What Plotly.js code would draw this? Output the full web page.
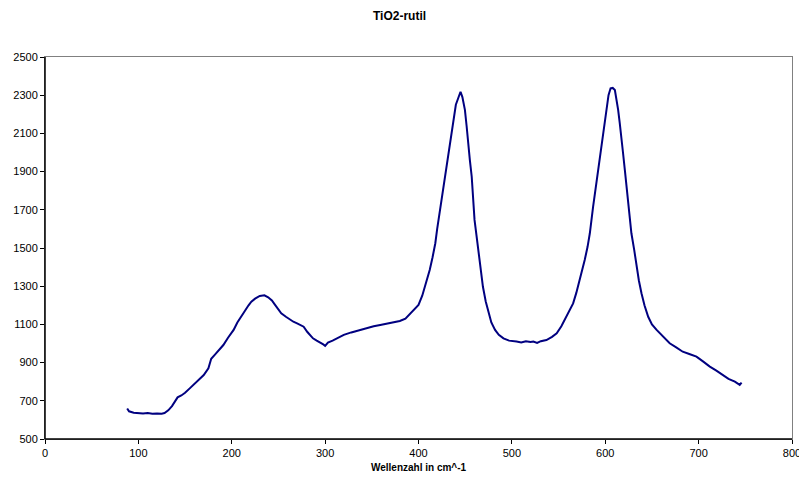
<!DOCTYPE html>
<html>
<head>
<meta charset="utf-8">
<script src="https://cdn.plot.ly/plotly-3.0.1.min.js"></script>
<style>html,body{margin:0;padding:0;background:#fff;}#chart{width:799px;height:481px;}</style>
</head>
<body>
<div id="chart"></div>
<script>
const chartTitle = "TiO2-rutil";
const xTitle = "Wellenzahl in cm^-1";

const wavenumber = [88,90,95,100,105,110,115,120,125,128,132,136,140,142,146,150,155,160,165,170,175,178,182,186,191,196,202,206,211,215,218,221,225,230,235,239,243,246,250,253,258,262,266,270,274,277,281,284,287,291,295,298,300,303,308,314,320,328,337,345,352,359,366,373,380,386,391,396,400,404,407,410,412,415,418,420,423,426,428,431,434,436,438,440,442.5,445,447,449.7,451.5,453,455,457,458.5,460,462,464,466.5,469,472,475,478,482,486,491,497,505,510,515,520,523,527,531,537,543,548,553,558.5,562,565.6,569,572.8,575.5,578,581,583.5,587,590.8,594,597.8,601.4,603.5,605.7,608,610.3,612,613.8,615.5,617.4,619,621,623,624.5,626,628,631,633.5,636,638.8,642,646,650,655,662,669,676,683,690,697.7,705,712,719,726,732,738.8,744,746];

const intensity = [660,645,638,636,634,636,632,634,632,636,650,672,700,718,728,742,765,790,815,835,870,920,942,965,992,1030,1071,1110,1150,1178,1200,1219,1235,1249,1252,1242,1225,1205,1175,1158,1140,1125,1114,1105,1095,1088,1060,1045,1027,1015,1005,995,988,1005,1015,1030,1045,1058,1071,1082,1090,1097,1105,1112,1118,1130,1155,1180,1202,1250,1297,1345,1385,1450,1525,1600,1699,1790,1873,1960,2048,2130,2205,2250,2284,2318,2290,2223,2140,2048,1960,1873,1760,1647,1570,1490,1390,1297,1220,1158,1110,1071,1045,1027,1015,1010,1005,1012,1008,1010,1003,1012,1018,1035,1053,1090,1140,1175,1210,1265,1332,1385,1437,1505,1577,1716,1856,1978,2101,2240,2300,2336,2338,2327,2280,2223,2155,2083,2000,1908,1820,1734,1655,1577,1490,1402,1330,1263,1200,1140,1100,1071,1035,1001,980,957,945,931,905,879,858,835,815,800,783,795];

const xRange = [0, 800];
const yRange = [500, 2500];

const trace = {
  x: wavenumber,
  y: intensity,
  type: 'scatter',
  mode: 'lines',
  line: {color: '#000080', width: 2},
  hoverinfo: 'x+y'
};

const fontFam = '"Liberation Sans", Arial, sans-serif';

const layout = {
  width: 799,
  height: 481,
  margin: {l: 45, r: 7, t: 57, b: 42},
  paper_bgcolor: '#ffffff',
  plot_bgcolor: '#ffffff',
  showlegend: false,
  font: {family: fontFam, size: 11, color: '#000'},
  title: {
    text: '<b>' + chartTitle + '</b>',
    font: {family: fontFam, size: 12, color: '#000'},
    x: 0.5, xanchor: 'center',
    y: 1 - 16/481, yanchor: 'middle', yref: 'container'
  },
  xaxis: {
    range: xRange,
    tick0: 0, dtick: 100,
    ticks: 'outside', ticklen: 4, tickcolor: '#000', tickwidth: 1,
    showgrid: false, zeroline: false,
    showline: true, linecolor: '#808080', linewidth: 1, mirror: true,
    ticklabeloverflow: 'allow',
    tickfont: {family: fontFam, size: 11, color: '#000'},
    title: {text: '<b>' + xTitle + '</b>', font: {family: fontFam, size: 10, color: '#000'}, standoff: 5}
  },
  yaxis: {
    range: yRange,
    tick0: 500, dtick: 200,
    ticks: 'outside', ticklen: 4, tickcolor: '#000', tickwidth: 1,
    showgrid: false, zeroline: false,
    showline: true, linecolor: '#808080', linewidth: 1, mirror: true,
    ticklabeloverflow: 'allow',
    tickfont: {family: fontFam, size: 11, color: '#000'}
  },
  shapes: [
    {type: 'line', xref: 'paper', yref: 'paper', x0: 0, x1: 1, y0: 0, y1: 0, line: {color: '#000', width: 1.5}},
    {type: 'line', xref: 'paper', yref: 'paper', x0: 0, x1: 0, y0: 0, y1: 1, line: {color: '#000', width: 1.5}}
  ]
};

Plotly.newPlot('chart', [trace], layout, {displayModeBar: false, staticPlot: true});
</script>
</body>
</html>
